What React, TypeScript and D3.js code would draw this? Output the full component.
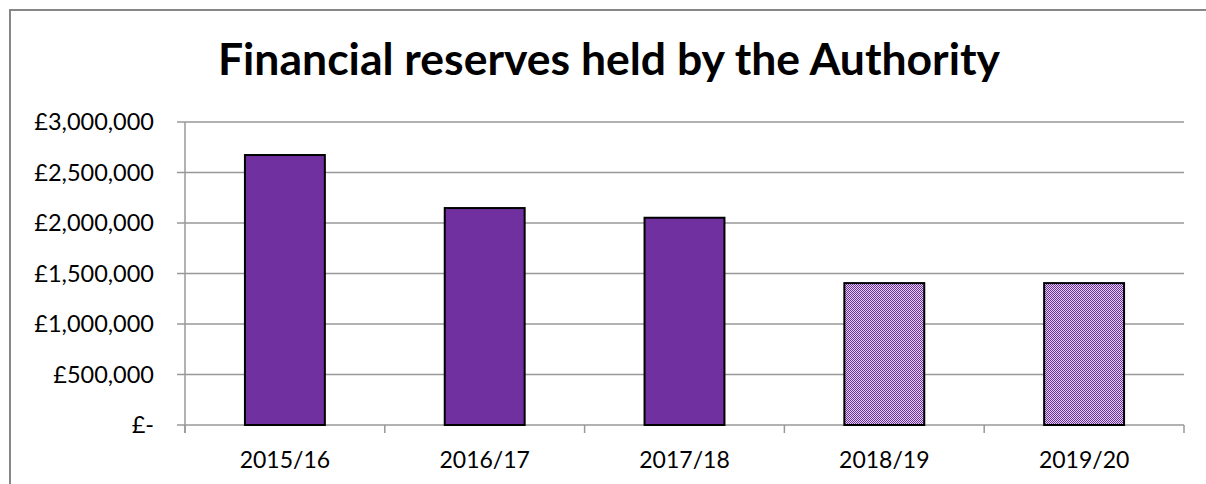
import React from "react";
import * as d3 from "d3";

const categories = ["2015/16", "2016/17", "2017/18", "2018/19", "2019/20"];
const values = [2673000, 2148000, 2052000, 1405000, 1405000];
const forecast = [false, false, false, true, true];
const yTicks = [0, 500000, 1000000, 1500000, 2000000, 2500000, 3000000];
const title = "Financial reserves held by the Authority";

const W = 1206;
const H = 484;
const plot = { left: 185, right: 1184, top: 122, bottom: 425 };
const FONT = "Lato, 'Open Sans', sans-serif";

function fmt(v: number) {
  if (v === 0) return "£-";
  return "£" + d3.format(",")(v);
}

export default function App() {
  const x = d3
    .scaleBand<string>()
    .domain(categories)
    .range([plot.left, plot.right])
    .paddingInner(0.6)
    .paddingOuter(0.3);
  const y = d3.scaleLinear().domain([0, 3000000]).range([plot.bottom, plot.top]);
  const bounds = categories.map((_, i) => plot.left + i * ((plot.right - plot.left) / categories.length));
  bounds.push(plot.right);

  return (
    <svg
      width={W}
      height={H}
      style={{ position: "absolute", left: 0, top: 0, background: "#fff" }}
      fontFamily={FONT}
    >
      <defs>
        <pattern id="checker" width={2} height={2} patternUnits="userSpaceOnUse">
          <rect width={2} height={2} fill="#E0D0EE" />
          <rect width={1} height={1} fill="#7030A0" />
          <rect x={1} y={1} width={1} height={1} fill="#7030A0" />
        </pattern>
      </defs>
      <rect x={0} y={0} width={W} height={H} fill="#fff" />
      <path d={`M10,${H} V10 H${W}`} fill="none" stroke="#878787" strokeWidth={2} />
      <text
        x={609}
        y={75}
        textAnchor="middle"
        fontSize={44.5}
        fontWeight={700}
        fill="#000"
      >
        {title}
      </text>
      {yTicks.map((t) => (
        <g key={t}>
          <line
            x1={plot.left - 8}
            x2={plot.right}
            y1={y(t)}
            y2={y(t)}
            stroke="#989898"
            strokeWidth={1.5}
          />
          <text
            x={154}
            y={y(t)}
            dy="0.35em"
            textAnchor="end"
            fontSize={23.5}
            fill="#000"
          >
            {fmt(t)}
          </text>
        </g>
      ))}
      <line x1={plot.left} x2={plot.left} y1={plot.top} y2={plot.bottom + 8} stroke="#989898" strokeWidth={1.5} />
      {bounds.map((b, i) => (
        <line key={i} x1={b} x2={b} y1={plot.bottom} y2={plot.bottom + 8} stroke="#989898" strokeWidth={1.5} />
      ))}
      {categories.map((c, i) => (
        <g key={c}>
          <rect
            x={x(c)}
            y={y(values[i])}
            width={x.bandwidth()}
            height={y(0) - y(values[i])}
            fill={forecast[i] ? "url(#checker)" : "#7030A0"}
            stroke="#000"
            strokeWidth={2}
          />
          <text
            x={(x(c) as number) + x.bandwidth() / 2}
            y={468}
            textAnchor="middle"
            fontSize={23}
            fill="#000"
          >
            {c}
          </text>
        </g>
      ))}
    </svg>
  );
}
